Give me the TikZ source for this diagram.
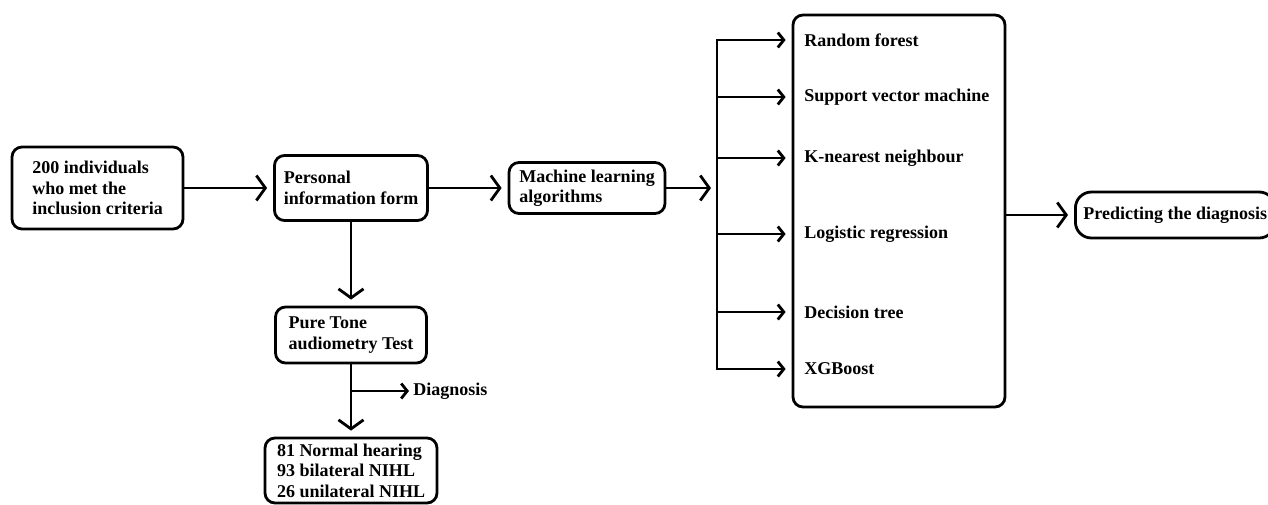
\documentclass[tikz,border=0pt]{standalone}
\usepackage{fontspec}
\setmainfont{Liberation Serif}
\usetikzlibrary{arrows.meta}

\begin{document}
\begin{tikzpicture}[x=1pt,y=-1pt,
  line width=2.8pt,
  font=\fontsize{18}{20.5}\selectfont\bfseries,
  box/.style={draw, rounded corners=10pt, align=left, inner sep=0pt},
  item/.style={anchor=west, inner sep=0pt},
  bigarrow/.style={-{Straight Barb[length=9pt,width=25pt]}, shorten >=6pt},
  smallarrow/.style={-{Straight Barb[length=6pt,width=15pt]}, shorten >=6pt}]

  % Fix the size of the picture
  \useasboundingbox (0,0) rectangle (1268,504);
  \clip (0,0) rectangle (1268,504);

  % Draw the boxes of the left part
  \node[box, minimum width=171pt, minimum height=82pt] (sample) at (97.5,188) {200 individuals\\who met the\\inclusion criteria};
  \node[box, minimum width=153pt, minimum height=65pt] (form) at (351,188) {Personal\\information form};
  \node[box, minimum width=151pt, minimum height=56pt] (ptatest) at (351,335) {Pure Tone\\audiometry Test};
  \node[box, minimum width=172pt, minimum height=65pt] (result) at (351,470.5) {81 Normal hearing\\93 bilateral NIHL\\26 unilateral NIHL};
  \node[item] (diag) at (412,391) {Diagnosis};

  % Draw the machine learning box
  \node[box, minimum width=156pt, minimum height=51pt] (ml) at (587,188) {Machine learning\\algorithms};

  % Draw the big box with the models
  \node[draw, rounded corners=10pt, minimum width=212pt, minimum height=392pt] (models) at (899,211) {};
  \node[item] (rf) at (803,40) {Random forest};
  \node[item] (svm) at (803,97) {Support vector machine};
  \node[item] (knn) at (803,158) {K-nearest neighbour};
  \node[item] (lr) at (803,234) {Logistic regression};
  \node[item] (dt) at (803,312) {Decision tree};
  \node[item] (xgb) at (803,369) {XGBoost};

  % Draw the output box
  \node[draw, rounded corners=16pt, inner xsep=8pt, minimum height=46pt, anchor=west] (predict) at (1074,215) {Predicting the diagnosis};

  % Define the split point in front of the models
  \coordinate (split) at (717,188);

  % Draw the arrows
  \draw[bigarrow] (sample) -- (form);
  \draw[bigarrow] (form) -- (ml);
  \draw[bigarrow] (ml) -- (split);
  \draw[bigarrow] (form) -- (ptatest);
  \draw[bigarrow] (ptatest) -- (result);
  \draw[smallarrow, shorten >=3pt] (ptatest.south |- diag) -- (diag.west);

  % Draw the branches to the models
  \draw[smallarrow] (split) |- (models.west |- rf);
  \draw[smallarrow] (split) |- (models.west |- xgb);
  \foreach \m in {svm,knn,lr,dt}
    \draw[smallarrow] (split |- \m) -- (models.west |- \m);

  \draw[bigarrow] (models.east |- predict) -- (predict.west);

\end{tikzpicture}
\end{document}
